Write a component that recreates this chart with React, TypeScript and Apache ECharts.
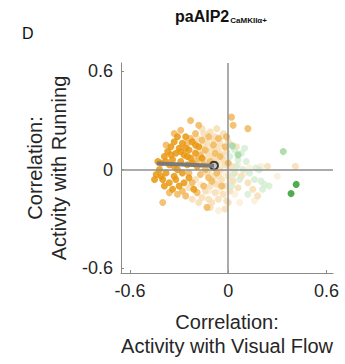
import React, { useEffect, useRef } from "react";
import * as echarts from "echarts";

const tickValues = [-0.6, 0, 0.6];

// neurons: [visual flow corr, running corr], grouped by colour class
const darkOrange = [
  [-0.44, -0.03], [-0.42, 0.0], [-0.41, 0.04], [-0.4, -0.06], [-0.39, 0.08], [-0.38, -0.02],
  [-0.37, 0.11], [-0.36, 0.03], [-0.36, -0.08], [-0.35, 0.14], [-0.34, 0.06], [-0.33, -0.04],
  [-0.33, 0.17], [-0.32, 0.1], [-0.31, 0.0], [-0.3, 0.13], [-0.3, -0.1], [-0.29, 0.05],
  [-0.28, 0.16], [-0.28, -0.02], [-0.27, 0.09], [-0.26, 0.2], [-0.25, 0.03], [-0.24, 0.12],
  [-0.24, -0.05], [-0.23, 0.07], [-0.22, 0.17], [-0.21, -0.12], [-0.2, 0.1], [-0.19, 0.02],
  [-0.18, 0.14], [-0.39, -0.1], [-0.34, -0.12], [-0.43, 0.05], [-0.31, 0.2], [-0.27, -0.08],
  [-0.16, 0.07], [-0.45, -0.06], [-0.35, 0.09], [-0.26, 0.13], [-0.32, -0.06], [-0.22, 0.04],
  [-0.38, 0.05], [-0.29, 0.11], [-0.25, 0.08], [-0.33, 0.02], [-0.41, -0.04], [-0.2, 0.15],
];
const midOrange = [
  [-0.4, -0.2], [-0.38, 0.15], [-0.36, -0.14], [-0.33, 0.22], [-0.31, -0.15], [-0.29, 0.24],
  [-0.28, -0.13], [-0.26, -0.16], [-0.25, 0.16], [-0.23, 0.3], [-0.22, -0.08], [-0.2, 0.22],
  [-0.19, -0.14], [-0.18, 0.27], [-0.17, -0.03], [-0.16, 0.18], [-0.15, -0.1], [-0.14, 0.12],
  [-0.13, -0.23], [-0.12, 0.2], [-0.11, 0.05], [-0.1, -0.07], [-0.09, 0.15], [-0.08, 0.1],
  [-0.07, -0.02], [-0.06, 0.19], [-0.05, 0.08], [-0.04, -0.1], [-0.02, 0.14], [0.0, 0.04],
  [0.02, 0.32], [0.03, 0.27], [0.12, 0.25], [-0.14, 0.0], [-0.12, -0.05], [-0.21, 0.04],
  [-0.17, 0.09], [-0.01, 0.2], [-0.24, -0.02], [-0.19, 0.06], [-0.15, 0.03], [-0.23, 0.19],
];
const paleOrange = [
  [-0.22, -0.18], [-0.2, -0.06], [-0.19, 0.19], [-0.18, -0.2], [-0.17, 0.03], [-0.16, -0.17],
  [-0.15, 0.22], [-0.15, 0.06], [-0.14, -0.13], [-0.13, 0.16], [-0.13, -0.02], [-0.12, 0.09],
  [-0.12, -0.18], [-0.11, 0.23], [-0.11, -0.1], [-0.1, 0.13], [-0.1, 0.02], [-0.1, -0.2],
  [-0.09, -0.04], [-0.09, 0.07], [-0.08, -0.14], [-0.08, 0.2], [-0.07, 0.04], [-0.07, -0.09],
  [-0.06, 0.12], [-0.06, -0.18], [-0.05, 0.0], [-0.05, 0.16], [-0.04, -0.06], [-0.04, 0.09],
  [-0.03, -0.15], [-0.03, 0.22], [-0.02, 0.03], [-0.02, -0.1], [-0.01, 0.11], [-0.01, -0.19],
  [0.0, -0.04], [0.0, 0.17], [0.01, -0.13], [0.02, 0.02], [0.03, -0.07], [0.04, -0.02],
  [0.06, -0.11], [0.08, -0.04], [0.12, -0.08], [0.15, -0.12], [0.18, -0.16], [0.41, 0.02],
  [-0.24, -0.11], [-0.18, 0.07], [-0.16, 0.13], [-0.14, 0.05], [-0.09, 0.18], [-0.07, 0.25],
  [-0.04, 0.2], [0.0, -0.2], [-0.11, -0.23], [0.05, 0.14], [-0.02, -0.24], [0.24, 0.02],
  [-0.16, 0.25], [-0.13, 0.11], [-0.08, 0.05], [-0.06, -0.04], [-0.03, 0.06], [-0.12, -0.01],
];
const creamOrange = [
  [-0.2, 0.12], [-0.17, -0.09], [-0.15, 0.15], [-0.13, 0.06], [-0.12, -0.13], [-0.1, 0.08],
  [-0.08, -0.08], [-0.07, 0.14], [-0.05, -0.13], [-0.04, 0.04], [-0.03, -0.02], [-0.02, 0.09],
  [0.0, 0.0], [0.01, -0.07], [0.02, 0.15], [0.04, -0.15], [0.06, 0.03], [0.1, -0.02],
  [0.13, 0.01], [0.2, 0.02], [0.16, -0.19], [0.07, -0.2], [-0.06, -0.25], [0.3, -0.04],
];
const paleGreen = [
  [0.01, 0.08], [0.04, 0.12], [0.06, 0.06], [0.08, 0.1], [0.05, 0.02], [0.09, 0.0],
  [0.07, -0.06], [0.11, 0.05], [0.03, -0.03], [0.13, -0.02], [0.16, -0.06], [0.2, -0.07],
  [0.22, -0.09], [0.25, -0.1], [0.19, 0.0], [0.17, 0.01], [0.1, 0.13], [0.02, -0.1],
  [0.21, -0.12], [0.12, -0.15],
];
const midGreen = [[0.025, 0.145], [0.336, 0.11], [0.06, 0.09]];
const darkGreen = [[0.415, -0.09], [0.384, -0.146]];

// population mean: from origin-of-arrow to mean marker
const meanLine = [[-0.437, 0.037], [-0.087, 0.024]];
const meanPoint = [[-0.087, 0.024]];

const FONT = "'Liberation Sans', Arial, Helvetica, sans-serif";
const TXT = "#262626";

export default function App() {
  const ref = useRef<HTMLDivElement>(null);
  useEffect(() => {
    if (!ref.current) return;
    document.body.style.margin = "0";
    const chart = echarts.init(ref.current, null, { renderer: "svg" });
    const scatter = (data: number[][], color: string, opacity: number) => ({
      type: "scatter",
      data,
      symbolSize: 7,
      itemStyle: { color, opacity },
      silent: true,
    });
    chart.setOption({
      animation: false,
      textStyle: { fontFamily: FONT },
      grid: { left: 121, right: 12, top: 63, bottom: 91 },
      xAxis: {
        type: "value",
        min: -0.655,
        max: 0.64,
        splitLine: { show: false },
        axisLine: { onZero: false, lineStyle: { color: "#8a8a8a", width: 1 } },
        axisTick: { inside: true, length: 3, customValues: tickValues, lineStyle: { color: "#8a8a8a" } },
        axisLabel: {
          customValues: tickValues,
          color: TXT,
          fontSize: 18,
          fontFamily: FONT,
          margin: 9,
          formatter: (v: number) => String(v),
        },
        name: "Correlation:\nActivity with Visual Flow",
        nameLocation: "middle",
        nameGap: 37,
        nameTextStyle: { color: TXT, fontSize: 20, fontFamily: FONT, lineHeight: 24 },
      },
      yAxis: {
        type: "value",
        min: -0.63,
        max: 0.65,
        splitLine: { show: false },
        axisLine: { onZero: false, lineStyle: { color: "#8a8a8a", width: 1 } },
        axisTick: { inside: true, length: 3, customValues: tickValues, lineStyle: { color: "#8a8a8a" } },
        axisLabel: {
          customValues: tickValues,
          color: TXT,
          fontSize: 18,
          fontFamily: FONT,
          margin: 8,
          formatter: (v: number) => String(v),
        },
        name: "Correlation:\nActivity with Running",
        nameLocation: "middle",
        nameGap: 44,
        nameTextStyle: { color: TXT, fontSize: 20, fontFamily: FONT, lineHeight: 24 },
      },
      graphic: [
        { type: "text", left: 22, top: 25, style: { text: "D", fontSize: 16, fill: "#111", fontFamily: FONT } },
        {
          type: "text",
          left: 175,
          top: 8,
          style: {
            text: "{a|paAIP2}{b|CaMKIIα+}",
            fontFamily: FONT,
            rich: {
              a: { fontSize: 16, fontWeight: "bold", fill: "#111", fontFamily: FONT },
              b: { fontSize: 8, fontWeight: "bold", fill: "#111", fontFamily: FONT, padding: [9, 0, 0, 1] },
            },
          },
        },
      ],
      series: [
        {
          type: "line",
          data: [],
          silent: true,
          markLine: {
            silent: true,
            symbol: "none",
            label: { show: false },
            lineStyle: { color: "#8f8f8f", width: 1.5, type: "solid" },
            data: [{ xAxis: 0 }, { yAxis: 0 }],
          },
        },
        scatter(creamOrange, "#fbecd6", 0.8),
        scatter(paleOrange, "#f8dcae", 0.8),
        scatter(paleGreen, "#d3ecd1", 0.8),
        scatter(midOrange, "#f1b75c", 0.85),
        scatter(darkOrange, "#e9960f", 0.85),
        scatter(midGreen, "#a6d9a4", 0.9),
        scatter(darkGreen, "#46a846", 0.95),
        {
          type: "line",
          data: meanLine,
          symbol: "none",
          silent: true,
          lineStyle: { color: "#7a7a7a", width: 4 },
        },
        {
          type: "scatter",
          data: meanPoint,
          symbol: "circle",
          symbolSize: 8,
          silent: true,
          itemStyle: { color: "#bdbdbd", borderColor: "#111", borderWidth: 2 },
        },
      ],
    });
    return () => chart.dispose();
  }, []);
  return <div ref={ref} style={{ width: 345, height: 364 }} />;
}
